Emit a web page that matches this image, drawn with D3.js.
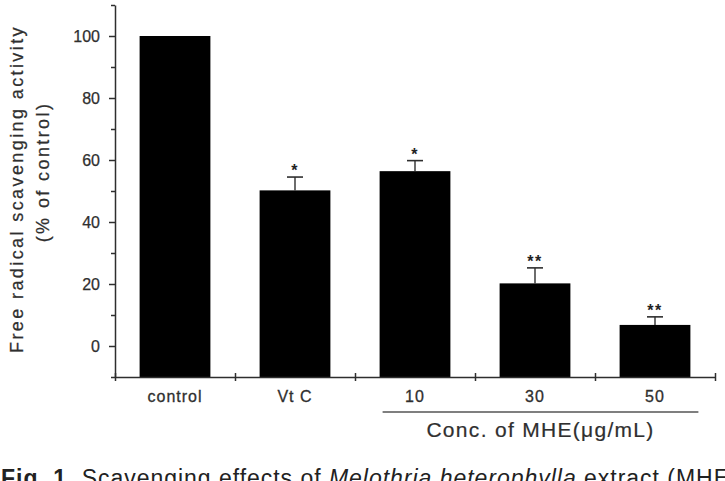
<!DOCTYPE html>
<html>
<head>
<meta charset="utf-8">
<script src="https://cdn.jsdelivr.net/npm/d3@7"></script>
<style>
  html, body { margin: 0; padding: 0; background: #fff; }
  svg { display: block; }
  text { font-family: Arial, "Liberation Sans", sans-serif; }
</style>
</head>
<body>
<svg id="chart" width="725" height="481"></svg>
<script>
// ---- data ----
const categories = ["control", "Vt C", "10", "30", "50"];
const values = [100, 50.2, 56.4, 20.2, 6.8];
const errors = [0, 4.3, 3.4, 5.0, 2.6];
const significance = ["", "*", "*", "**", "**"];
const yMajorTicks = [0, 20, 40, 60, 80, 100];
const yMinorTicks = [-10, 10, 30, 50, 70, 90, 110];
const yTitle = ["Free radical scavenging activity", "(% of control)"];
const groupLabel = "Conc. of MHE(\u03bcg/mL)";
const groupCategories = ["10", "30", "50"];
const captionBold = "Fig. 1.";
const captionText = "  Scavenging effects of ";
const captionItalic = "Melothria heterophylla";
const captionRest = " extract (MHE";

const svg = d3.select("#chart");
const ink = "#2e2e2e";
const textInk = "#2f2f2f";

const y = d3.scaleLinear().domain([-10, 110]).range([377, 5]);
const x = d3.scaleBand().domain(categories).range([115, 715])
  .paddingInner(0.41).paddingOuter(0.205);
const xb = d3.scaleLinear().domain([0, categories.length]).range([115, 715]);

// bars
const data = categories.map((c, i) => ({ c, v: values[i], e: errors[i], s: significance[i] }));
svg.append("g").selectAll("rect").data(data).join("rect")
  .attr("x", d => x(d.c))
  .attr("y", d => y(d.v))
  .attr("width", x.bandwidth())
  .attr("height", d => y(-10) - y(d.v))
  .attr("fill", "#000");

// error bars (upper only)
const eb = svg.append("g").selectAll("g").data(data.filter(d => d.e > 0)).join("g");
eb.append("line")
  .attr("x1", d => x(d.c) + x.bandwidth() / 2).attr("x2", d => x(d.c) + x.bandwidth() / 2)
  .attr("y1", d => y(d.v)).attr("y2", d => y(d.v + d.e))
  .attr("stroke", ink).attr("stroke-width", 1.4);
eb.append("line")
  .attr("x1", d => x(d.c) + x.bandwidth() / 2 - 8).attr("x2", d => x(d.c) + x.bandwidth() / 2 + 8)
  .attr("y1", d => y(d.v + d.e)).attr("y2", d => y(d.v + d.e))
  .attr("stroke", ink).attr("stroke-width", 1.6);
eb.append("text")
  .attr("x", d => x(d.c) + x.bandwidth() / 2)
  .attr("y", d => y(d.v + d.e) - 1)
  .attr("text-anchor", "middle")
  .attr("font-size", 16).attr("font-weight", "bold")
  .attr("letter-spacing", 1.5)
  .attr("fill", "#222")
  .text(d => d.s);

// y axis
const yAxisMajor = d3.axisLeft(y).tickValues(yMajorTicks).tickSize(6).tickSizeOuter(0).tickPadding(9);
const gy = svg.append("g").attr("transform", "translate(115,0)").call(yAxisMajor);
gy.select(".domain").attr("stroke", ink).attr("stroke-width", 1.5);
gy.selectAll(".tick line").attr("stroke", ink).attr("stroke-width", 1.5);
gy.selectAll(".tick text").attr("font-size", 16).attr("fill", textInk)
  .attr("stroke", textInk).attr("stroke-width", 0.25)
  .attr("font-family", "Arial, 'Liberation Sans', sans-serif");

const yAxisMinor = d3.axisLeft(y).tickValues(yMinorTicks).tickSize(4).tickFormat("").tickSizeOuter(0);
const gym = svg.append("g").attr("transform", "translate(115,0)").call(yAxisMinor);
gym.select(".domain").remove();
gym.selectAll(".tick line").attr("stroke", ink).attr("stroke-width", 1.5);

// x axis (ticks at category boundaries, crossing the line)
const xAxisTicks = d3.axisBottom(xb).tickValues(d3.range(categories.length + 1))
  .tickSize(4).tickFormat("").tickSizeOuter(0);
const gx = svg.append("g").attr("transform", `translate(0,${y(-10)})`).call(xAxisTicks);
gx.select(".domain").attr("stroke", ink).attr("stroke-width", 1.5);
gx.selectAll(".tick line").attr("y1", -4).attr("stroke", ink).attr("stroke-width", 1.5);

const xAxisLabels = d3.axisBottom(x).tickSize(0).tickPadding(14);
const gxl = svg.append("g").attr("transform", `translate(0,${y(-10)})`).call(xAxisLabels);
gxl.select(".domain").remove();
gxl.selectAll(".tick text").attr("font-size", 16).attr("fill", textInk)
  .attr("stroke", textInk).attr("stroke-width", 0.3)
  .attr("letter-spacing", 1)
  .attr("font-family", "Arial, 'Liberation Sans', sans-serif");

// group line + label
const gStart = x(groupCategories[0]) + 3;
const gEnd = x(groupCategories[groupCategories.length - 1]) + x.bandwidth() + 8;
svg.append("line")
  .attr("x1", gStart).attr("x2", gEnd)
  .attr("y1", 412).attr("y2", 412)
  .attr("stroke", "#555").attr("stroke-width", 1.6);
svg.append("text")
  .attr("x", (gStart + gEnd) / 2)
  .attr("y", 437)
  .attr("text-anchor", "middle")
  .attr("font-size", 21).attr("letter-spacing", 1.3)
  .attr("fill", textInk).attr("stroke", textInk).attr("stroke-width", 0.2)
  .text(groupLabel);

// y title
svg.append("text")
  .attr("transform", "translate(23,189) rotate(-90)")
  .attr("text-anchor", "middle")
  .attr("font-size", 18).attr("letter-spacing", 2.4)
  .attr("fill", textInk).attr("stroke", textInk).attr("stroke-width", 0.25)
  .text(yTitle[0]);
svg.append("text")
  .attr("transform", "translate(49,172) rotate(-90)")
  .attr("text-anchor", "middle")
  .attr("font-size", 18).attr("letter-spacing", 2.4)
  .attr("fill", textInk).attr("stroke", textInk).attr("stroke-width", 0.25)
  .text(yTitle[1]);

// caption (cut off at bottom edge, as in the source scan)
const cap = svg.append("text")
  .attr("x", 1).attr("y", 486)
  .attr("font-family", "'Liberation Serif', 'DejaVu Serif', serif")
  .attr("font-size", 23).attr("fill", "#222")
  .attr("textLength", 728).attr("lengthAdjust", "spacing");
cap.append("tspan").attr("font-weight", "bold").text(captionBold);
cap.append("tspan").text(captionText);
cap.append("tspan").attr("font-style", "italic").text(captionItalic);
cap.append("tspan").text(captionRest);
</script>
</body>
</html>
